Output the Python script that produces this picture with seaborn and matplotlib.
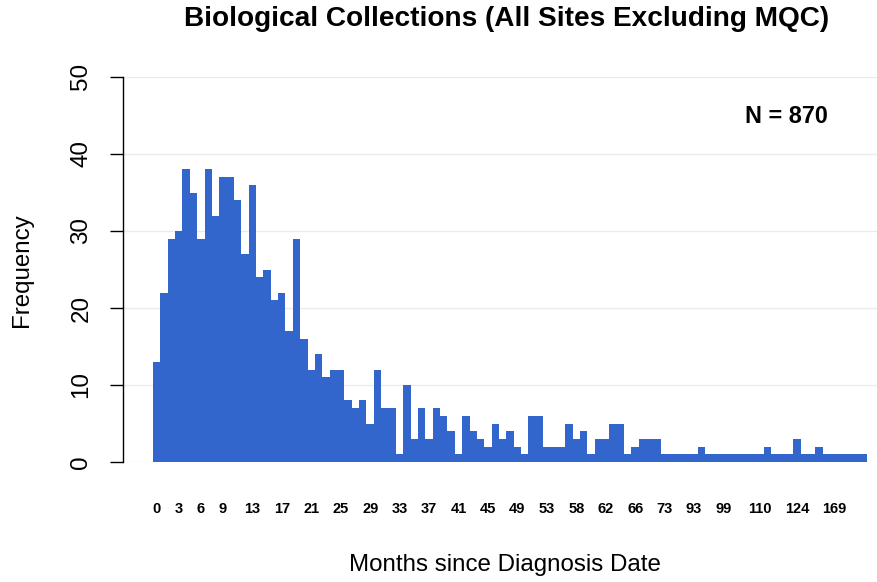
import matplotlib
matplotlib.use("Agg")
import matplotlib.pyplot as plt
import seaborn as sns
import pandas as pd

# Month values (category for each bar, in order)
months = list(range(0, 46)) + [46, 47, 48, 49, 50, 51, 52, 53, 54, 55, 56, 58, 59, 60, 61,
          62, 63, 64, 65, 66, 67, 68, 70, 73, 76, 81, 87, 93, 95, 96, 98, 99,
          101, 103, 105, 108, 110, 112, 115, 118, 121, 124, 130, 138, 145, 157,
          169, 175, 182, 190, 204]

frequency = [13, 22, 29, 30, 38, 35, 29, 38, 32, 37, 37, 34, 27, 36,
             24, 25, 21, 22, 17, 29, 16, 12, 14, 11, 12, 12, 8, 7, 8,
             5, 12, 7, 7, 1, 10, 3, 7, 3, 7, 6, 4, 1, 6, 4, 3, 2,
             5, 3, 4, 2, 1, 6, 6, 2, 2, 2, 5, 3, 4, 1, 3, 3, 5, 5, 1, 2, 3, 3, 3,
             1, 1, 1, 1, 1, 2, 1, 1, 1, 1, 1, 1, 1, 1, 2, 1, 1, 1, 3, 1, 1, 2, 1,
             1, 1, 1, 1, 1]

shown_labels = [0, 3, 6, 9, 13, 17, 21, 25, 29, 33, 37, 41, 45, 49, 53, 58, 62,
                66, 73, 93, 99, 110, 124, 169]

y_ticks = [0, 10, 20, 30, 40, 50]

title = "Biological Collections (All Sites Excluding MQC)"
x_label = "Months since Diagnosis Date"
y_label = "Frequency"
n_text = "N = 870"

bar_color = "#3366CC"

plt.rcParams['font.family'] = ['Liberation Sans', 'DejaVu Sans']

df = pd.DataFrame({"month": [str(m) for m in months], "freq": frequency})

W, H = 878, 582
fig = plt.figure(figsize=(W / 100, H / 100), dpi=100)
ax_left, ax_right, ax_bottom, ax_top = 122.7, 878, 462, 77
ax = fig.add_axes([ax_left / W, 1 - ax_bottom / H, (ax_right - ax_left) / W,
                   (ax_bottom - ax_top) / H])

sns.barplot(data=df, x="month", y="freq", order=df["month"].tolist(),
            color=bar_color, saturation=1, width=1.0, linewidth=0,
            errorbar=None, ax=ax, zorder=3)

px_per_bar = 7.36
ax.set_xlim(-0.5 - (153 - ax_left) / px_per_bar, 96.5 + (878 - 867) / px_per_bar)
ax.set_ylim(0, 50)

for y in y_ticks:
    ax.axhline(y, color="#EBEBEB", lw=1.0, zorder=1)

ax.set_xticks(range(len(months)))
ax.set_xticklabels([str(m) if m in shown_labels else "" for m in months],
                   fontsize=10.5, fontweight="bold")
ax.tick_params(axis="x", length=0, pad=28.5)

ax.set_yticks(y_ticks)
ax.set_yticklabels([str(v) for v in y_ticks], fontsize=17.4, rotation=90, va="center")
ax.tick_params(axis="y", length=9.4, width=1.0, pad=12.5)

for s in ["top", "right", "bottom"]:
    ax.spines[s].set_visible(False)
ax.spines["left"].set_linewidth(1.0)
ax.set_xlabel("")
ax.set_ylabel("")

fig.text(506.5 / W, 1 - 19 / H, title, ha="center", va="center",
         fontsize=20.2, fontweight="bold")
fig.text(505 / W, 1 - 565 / H, x_label, ha="center", va="center", fontsize=17.4)
fig.text(22 / W, 1 - 270 / H, y_label, ha="center", va="center", fontsize=17.4,
         rotation=90)
fig.text(786.5 / W, 1 - 116.7 / H, n_text, ha="center", va="center",
         fontsize=16.9, fontweight="bold")

fig.savefig("out.png", dpi=100)
